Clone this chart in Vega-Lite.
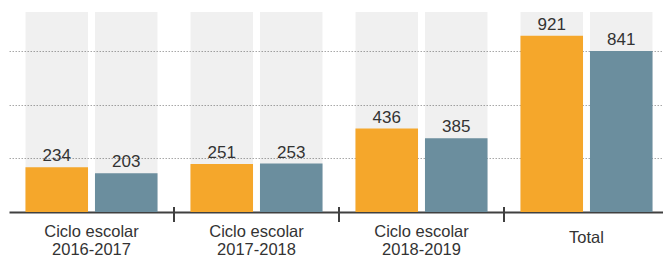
{
  "$schema": "https://vega.github.io/schema/vega-lite/v6.json",
  "width": 654,
  "height": 200,
  "autosize": {"type": "none"},
  "padding": {"left": 9, "top": 12, "right": 0, "bottom": 46},
  "background": "white",
  "config": {
    "view": {"stroke": null},
    "font": "Liberation Sans"
  },
  "data": {
    "values": [
      {"group": "Ciclo escolar 2016-2017", "serie": "Serie 1", "value": 234},
      {"group": "Ciclo escolar 2016-2017", "serie": "Serie 2", "value": 203},
      {"group": "Ciclo escolar 2017-2018", "serie": "Serie 1", "value": 251},
      {"group": "Ciclo escolar 2017-2018", "serie": "Serie 2", "value": 253},
      {"group": "Ciclo escolar 2018-2019", "serie": "Serie 1", "value": 436},
      {"group": "Ciclo escolar 2018-2019", "serie": "Serie 2", "value": 385},
      {"group": "Total", "serie": "Serie 1", "value": 921},
      {"group": "Total", "serie": "Serie 2", "value": 841}
    ]
  },
  "encoding": {
    "x": {
      "field": "group",
      "type": "nominal",
      "scale": {
        "domain": ["Ciclo escolar 2016-2017", "Ciclo escolar 2017-2018", "Ciclo escolar 2018-2019", "Total"],
        "range": [0, 660],
        "paddingInner": 0,
        "paddingOuter": 0
      },
      "axis": {
        "title": null,
        "ticks": false,
        "domainColor": "#404040",
        "domainWidth": 2,
        "labelAngle": 0,
        "labelFont": "Liberation Sans",
        "labelFontSize": 16.5,
        "labelColor": "#333333",
        "labelBaseline": "top",
        "labelLineHeight": 18.5,
        "labelPadding": {"condition": {"test": "datum.value == 'Total'", "value": 17}, "value": 11},
        "labelExpr": "datum.value == 'Total' ? 'Total' : ['Ciclo escolar', slice(datum.value, 14)]"
      }
    },
    "xOffset": {
      "field": "serie",
      "type": "nominal",
      "scale": {"paddingInner": 0.1, "paddingOuter": 0.237}
    }
  },
  "layer": [
    {
      "mark": {"type": "bar", "color": "#000000", "opacity": 0.06},
      "encoding": {
        "y": {
          "datum": 1045,
          "type": "quantitative",
          "scale": {"domain": [0, 1045], "nice": false},
          "axis": {
            "title": null,
            "labels": false,
            "ticks": false,
            "domain": false,
            "grid": true,
            "values": [280, 560, 840],
            "gridColor": "#a8a8a8",
            "gridDash": [1.5, 1.5],
            "gridWidth": 1
          }
        }
      }
    },
    {
      "mark": {"type": "bar"},
      "encoding": {
        "y": {"field": "value", "type": "quantitative"},
        "color": {
          "field": "serie",
          "type": "nominal",
          "scale": {"range": ["#F5A72B", "#6B8E9E"]},
          "legend": null
        }
      }
    },
    {
      "mark": {"type": "text", "baseline": "bottom", "dy": -2, "fontSize": 17, "color": "#333333", "font": "Liberation Sans"},
      "encoding": {
        "y": {"field": "value", "type": "quantitative"},
        "text": {"field": "value", "type": "quantitative"}
      }
    },
    {
      "data": {"values": [{"group": "Ciclo escolar 2017-2018"}, {"group": "Ciclo escolar 2018-2019"}, {"group": "Total"}]},
      "mark": {"type": "rule", "color": "#404040", "strokeWidth": 2},
      "encoding": {
        "x": {"field": "group", "type": "nominal", "bandPosition": 0},
        "xOffset": null,
        "y": {"datum": 26, "type": "quantitative"},
        "y2": {"datum": -52}
      }
    }
  ]
}
